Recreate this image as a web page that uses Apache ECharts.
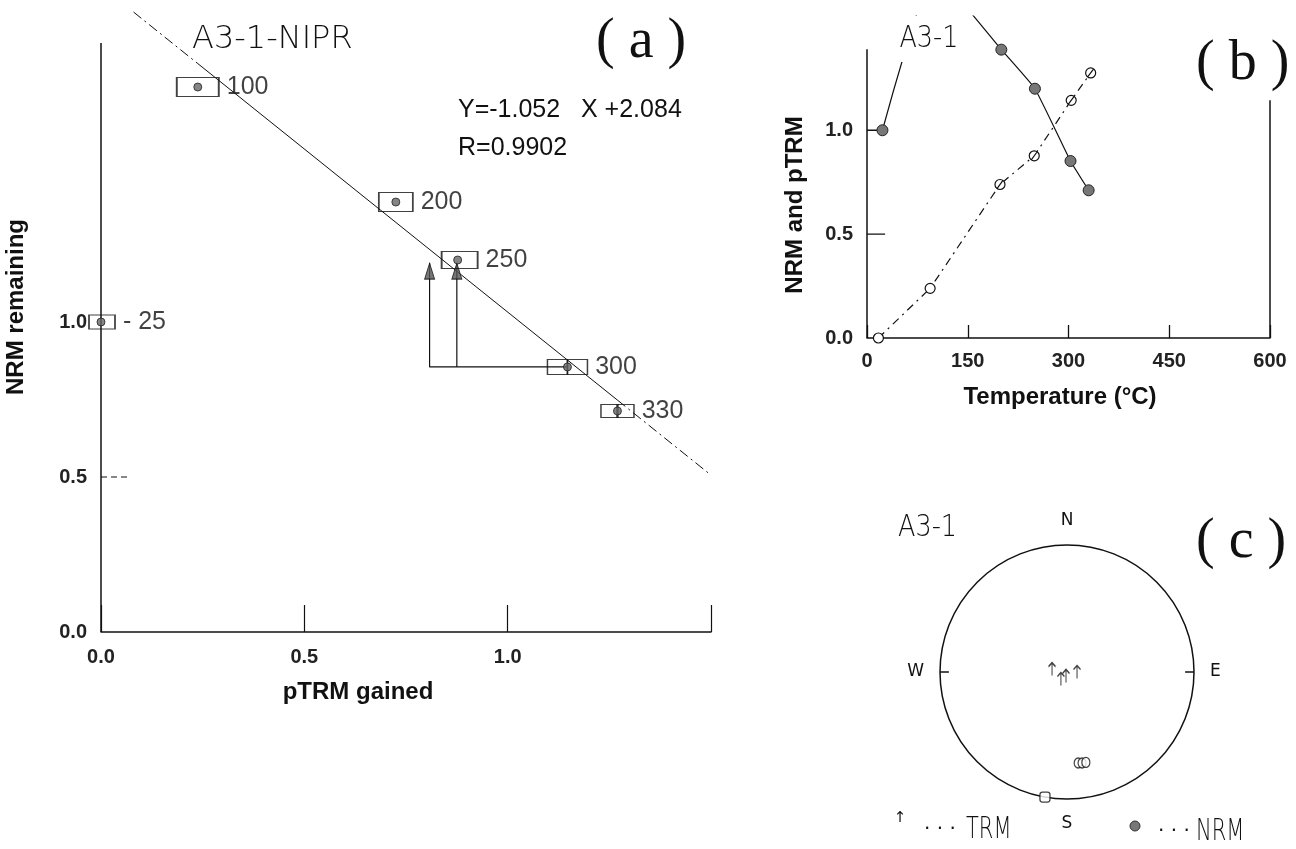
<!DOCTYPE html>
<html><head><meta charset="utf-8">
<script src="https://cdn.jsdelivr.net/npm/echarts/dist/echarts.min.js"></script>
<style>html,body{margin:0;padding:0;background:#fff}#c{width:1296px;height:849px}</style>
</head><body><div id="c"></div>
<script>
// ---------- Panel (a): Arai plot ----------
const tempSteps    = ['25', '100', '200', '250', '300', '330'];
const ptrmGained   = [0.0, 0.238, 0.725, 0.877, 1.147, 1.27];
const nrmRemaining = [1.0, 1.758, 1.387, 1.2, 0.855, 0.713];
const fitSlope = -1.052;
const fitIntercept = 2.084;
const fitR = 0.9902;
const fitStartX = 0.08;
const fitEndX = 1.5;
const checkPtrm = [0.808, 0.875];   // pTRM-check positions
const checkNrm = 1.19;              // top of pTRM-check arrows
const checkBaseIndex = 4;           // step the check starts from (300)
const aTickLabels = [0.0, 0.5, 1.0];

// ---------- Panel (b): NRM & pTRM vs temperature ----------
const nrmTemps  = [23, 100, 200, 250, 303, 330];
const nrmValues = [1.0, 1.758, 1.388, 1.2, 0.852, 0.711];
const ptrmTemps  = [17, 94, 198, 249, 304, 333];
const ptrmValues = [0.0, 0.239, 0.739, 0.877, 1.144, 1.276];
const bXTicks = [0, 150, 300, 450, 600];
const bYTickLabels = [0.0, 0.5, 1.0];

// ---------- Panel (c): equal-area stereonet ----------
const trmDec = [281, 90, 221, 194];
const trmR   = [0.12, 0.079, 0.073, 0.032];
const nrmDec = [173, 170.6, 168.2, 190];
const nrmR   = [0.722, 0.726, 0.727, 1.0];
const compass = {0: 'N', 90: 'E', 180: 'S', 270: 'W'};

const fit = x => fitSlope * x + fitIntercept;
const tickFont = {fontFamily: "'Liberation Sans', Arial, sans-serif", fontWeight: 'bold', fontSize: 20, color: '#222'};
const dashDot = [10, 4, 2, 4];
const black = '#111';

function seg(pts, xi, style, extra) {
  return Object.assign({
    type: 'line', xAxisIndex: xi, yAxisIndex: xi, data: pts, symbol: 'none', silent: true,
    lineStyle: Object.assign({color: black, width: 1.2}, style || {}), z: 3
  }, extra || {});
}

// boxes around Arai points (in px, code-side styling)
const boxShapes = [
  [[26, 14, 1]],
  [[42, 19, 0]],
  [[34, 19, 0]],
  [[36, 17, 2]],
  [[20, 15, -10], [20, 15, 10]],
  [[17, 13, -8], [17, 13, 8]]
];
const boxData = [];
tempSteps.forEach((t, i) => {
  boxShapes[i].forEach((b, k) => {
    const last = k === boxShapes[i].length - 1;
    boxData.push({
      value: [ptrmGained[i], nrmRemaining[i]],
      symbolSize: [b[0], b[1]], symbolOffset: [b[2], 0],
      label: {show: last, formatter: i === 0 ? '- ' + t : t}
    });
  });
});

const arrowPath = 'path://M0,4 L4,0 L8,4 M4,0 L4,13';
const slashCircle = 'path://M0,5a5,5 0 1,0 10,0a5,5 0 1,0 -10,0 M2.2,8.8 L7.8,1.2';

const series = [
  // regression line: dash-dot outside data range, solid inside
  seg([[fitStartX, fit(fitStartX)], [ptrmGained[1], fit(ptrmGained[1])]], 0, {type: dashDot, width: 1}),
  seg([[ptrmGained[1], fit(ptrmGained[1])], [ptrmGained[5], fit(ptrmGained[5])]], 0, {width: 1}),
  seg([[ptrmGained[5], fit(ptrmGained[5])], [fitEndX, fit(fitEndX)]], 0, {type: dashDot, width: 1}),
  // y axis line (a)
  seg([[0, 0], [0, 1.9]], 0, {width: 1.5}),
  // dashed tick at 0.5
  seg([[0, 0.5], [0.065, 0.5]], 0, {type: [6, 4], width: 1.2}),
  // pTRM checks
  seg([[ptrmGained[checkBaseIndex], nrmRemaining[checkBaseIndex]], [checkPtrm[0], nrmRemaining[checkBaseIndex]], [checkPtrm[0], checkNrm]], 0, {width: 1.2}),
  seg([[checkPtrm[1], nrmRemaining[checkBaseIndex]], [checkPtrm[1], checkNrm]], 0, {width: 1.2}),
  {
    type: 'scatter', xAxisIndex: 0, yAxisIndex: 0, silent: true, z: 4,
    data: checkPtrm.map(x => [x, checkNrm]),
    symbol: 'triangle', symbolSize: [10, 16], symbolOffset: [0, 8],
    itemStyle: {color: '#555', borderColor: '#111', borderWidth: 1}
  },
  // boxes with step labels
  {
    type: 'scatter', xAxisIndex: 0, yAxisIndex: 0, silent: true, z: 5,
    data: boxData, symbol: 'rect',
    itemStyle: {color: 'rgba(255,255,255,0)', borderColor: black, borderWidth: 1.3},
    label: {position: 'right', distance: 7, color: '#111', fontFamily: "'Liberation Sans', Arial, sans-serif", fontSize: 25}
  },
  // dots
  {
    type: 'scatter', xAxisIndex: 0, yAxisIndex: 0, silent: true, z: 6,
    data: ptrmGained.map((x, i) => [x, nrmRemaining[i]]),
    symbol: 'circle', symbolSize: 8,
    itemStyle: {color: '#666', borderColor: '#222', borderWidth: 1}
  },

  // ----- panel (b) -----
  seg([[0, 0], [0, 1.39]], 1, {width: 1.5}),
  seg([[600, 0], [600, 1.145]], 1, {width: 1.5}),
  seg([[0, 0.5], [27, 0.5]], 1, {width: 1.3}),
  seg([[0, 1.0], [20, 1.0]], 1, {width: 1.3}),
  {
    type: 'line', xAxisIndex: 1, yAxisIndex: 1, silent: true, z: 4,
    data: nrmTemps.map((t, i) => [t, nrmValues[i]]),
    smooth: 0.12, symbol: 'circle', symbolSize: 11, showAllSymbol: true,
    lineStyle: {color: black, width: 1.2},
    itemStyle: {color: '#777', borderColor: '#222', borderWidth: 1}
  },
  {
    type: 'line', xAxisIndex: 1, yAxisIndex: 1, silent: true, z: 4,
    data: ptrmTemps.map((t, i) => ({value: [t, ptrmValues[i]], symbol: i < 2 ? 'circle' : slashCircle})),
    symbolSize: 10, showAllSymbol: true,
    lineStyle: {color: black, width: 1.2, type: [8, 5, 2, 5]},
    itemStyle: {color: '#fff', borderColor: '#111', borderWidth: 1.2}
  },

  // ----- panel (c) -----
  ...[[0, 1, 1.07], [180, 1, 1.07], [90, 0.93, 1], [270, 0.93, 1]].map(t => ({
    type: 'line', coordinateSystem: 'polar', polarIndex: 0, silent: true, symbol: 'none',
    data: [[t[1], t[0]], [t[2], t[0]]], lineStyle: {color: black, width: 1.5}
  })),
  {
    type: 'scatter', coordinateSystem: 'polar', silent: true, z: 5,
    data: trmR.map((r, i) => [r, trmDec[i]]),
    symbol: arrowPath, symbolSize: [7, 13],
    itemStyle: {color: 'rgba(0,0,0,0)', borderColor: '#111', borderWidth: 1.4}
  },
  {
    type: 'scatter', coordinateSystem: 'polar', silent: true, z: 5,
    data: nrmR.map((r, i) => ({value: [r, nrmDec[i]], symbol: i === 3 ? 'roundRect' : 'circle', symbolSize: i === 3 ? [10, 10] : [8, 10]})),
    itemStyle: {color: '#fff', borderColor: '#111', borderWidth: 1.3}
  }
];

function txt(x, y, text, font, opts) {
  opts = opts || {};
  return {
    type: 'text', x: x, y: y, rotation: opts.rotation || 0, scaleX: opts.scaleX || 1, scaleY: opts.scaleY || 1, z: 100,
    style: Object.assign({text: text, font: font, fill: '#111', align: opts.align || 'left', verticalAlign: 'middle',
      textAlign: opts.align || 'left', textVerticalAlign: 'middle'}, opts.style || {})
  };
}
const plotter = "'DejaVu Sans', sans-serif";
const serif = "'Liberation Serif', 'Times New Roman', serif";
const bold = "bold 24px 'Liberation Sans', Arial, sans-serif";

const graphic = [
  // panel (a)
  txt(192, 40, 'A3-1-NIPR', '200 32px ' + plotter),
  txt(596, 42, '( a )', '56px ' + serif),
  txt(458, 110, 'Y=-1.052   X +2.084', "25px 'Liberation Sans', Arial, sans-serif"),
  txt(458, 148, 'R=' + fitR.toFixed(4), "25px 'Liberation Sans', Arial, sans-serif"),
  txt(16, 307, 'NRM remaining', bold, {rotation: Math.PI / 2, align: 'center'}),
  txt(358, 692, 'pTRM gained', bold, {align: 'center'}),
  // panel (b)
  txt(896, 39, 'A3-1', '200 30px ' + plotter, {scaleX: 0.85, style: {backgroundColor: '#fff', padding: [14, 4, 2, 4]}}),
  txt(1196, 64, '( b )', '56px ' + serif),
  txt(795, 205, 'NRM and pTRM', bold, {rotation: Math.PI / 2, align: 'center'}),
  txt(1060, 397, 'Temperature (°C)', bold, {align: 'center'}),
  // panel (c)
  txt(898, 528, 'A3-1', '200 30px ' + plotter, {scaleX: 0.85}),
  txt(1196, 542, '( c )', '56px ' + serif),
  txt(900, 818, '↑', '15px ' + plotter, {align: 'center'}),
  txt(924, 830, '· · ·', '20px ' + plotter),
  txt(966, 830, 'TRM', '200 30px ' + plotter, {scaleX: 0.7}),
  txt(1158, 832, '· · ·', '20px ' + plotter),
  txt(1196, 832, 'NRM', '200 30px ' + plotter, {scaleX: 0.7}),
  {type: 'circle', z: 100, shape: {cx: 1135, cy: 826, r: 5}, style: {fill: '#777', stroke: '#333', lineWidth: 1}}
];

const chart = echarts.init(document.getElementById('c'), null, {renderer: 'canvas'});
chart.setOption({
  animation: false,
  backgroundColor: '#fff',
  grid: [
    {left: 101, top: 2.7, width: 610, height: 629.3},
    {left: 867, top: 16, width: 403, height: 322}
  ],
  xAxis: [
    {
      gridIndex: 0, type: 'value', min: 0, max: 1.5, interval: 0.5,
      axisLine: {lineStyle: {color: black, width: 1.5}},
      axisTick: {inside: true, length: 27, lineStyle: {color: black, width: 1.2}},
      axisLabel: Object.assign({margin: 15, formatter: v => aTickLabels.indexOf(v) >= 0 ? v.toFixed(1) : ''}, tickFont),
      splitLine: {show: false}
    },
    {
      gridIndex: 1, type: 'value', min: 0, max: 600, interval: 150,
      axisLine: {lineStyle: {color: black, width: 1.5}},
      axisTick: {inside: true, length: 13, lineStyle: {color: black, width: 1.3}},
      axisLabel: Object.assign({margin: 13, showMaxLabel: true, formatter: v => bXTicks.indexOf(v) >= 0 ? String(v) : ''}, tickFont),
      splitLine: {show: false}
    }
  ],
  yAxis: [
    {
      gridIndex: 0, type: 'value', min: 0, max: 2.03, interval: 0.5,
      axisLine: {show: false}, axisTick: {show: false}, splitLine: {show: false},
      axisLabel: Object.assign({margin: 14, showMaxLabel: false, formatter: v => aTickLabels.indexOf(v) >= 0 ? v.toFixed(1) : ''}, tickFont)
    },
    {
      gridIndex: 1, type: 'value', min: 0, max: 1.55, interval: 0.5,
      axisLine: {show: false}, axisTick: {show: false}, splitLine: {show: false},
      axisLabel: Object.assign({margin: 14, showMaxLabel: false, formatter: v => bYTickLabels.indexOf(v) >= 0 ? v.toFixed(1) : ''}, tickFont)
    }
  ],
  polar: {center: [1067, 672], radius: 127},
  angleAxis: {
    type: 'value', min: 0, max: 360, interval: 90, startAngle: 90, clockwise: true,
    axisLine: {lineStyle: {color: black, width: 1.5}},
    axisTick: {show: false}, splitLine: {show: false},
    axisLabel: {margin: 16, color: '#111', fontFamily: "'DejaVu Sans', sans-serif", fontSize: 17,
      formatter: v => (v === 360 ? '' : (compass[v] || ''))}
  },
  radiusAxis: {min: 0, max: 1, show: false},
  series: series,
  graphic: graphic
});
</script></body></html>
